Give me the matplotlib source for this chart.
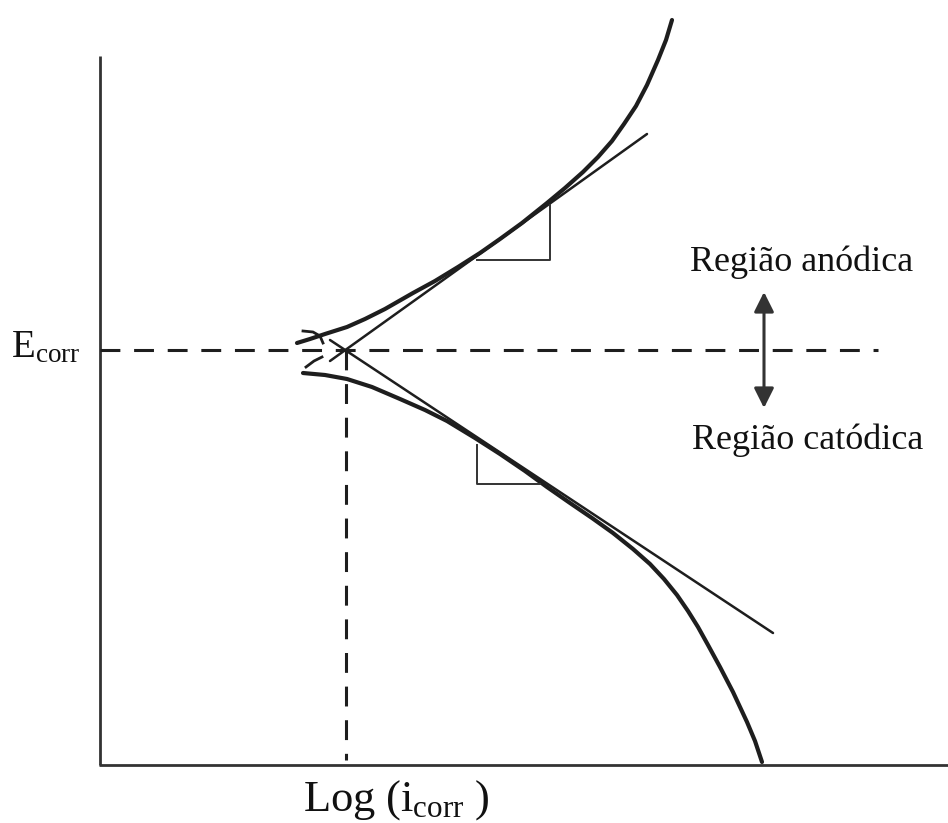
import matplotlib.pyplot as plt

plt.rcParams['font.family'] = ['Liberation Serif', 'DejaVu Serif']
plt.rcParams['mathtext.fontset'] = 'custom'
plt.rcParams['mathtext.rm'] = 'Liberation Serif'
plt.rcParams['mathtext.it'] = 'Liberation Serif:italic'

# curve points (x = log i, y = potential, screen units)
anodic_x = [297, 310, 325, 347, 365, 385, 413, 435, 458, 480, 500, 522, 547,
            565, 583, 598, 612, 624, 636, 647, 658, 666, 672]
anodic_y = [343, 339, 334, 327, 319, 309, 293, 281, 267, 253, 239, 223, 203,
            188, 172, 157, 141, 124, 106, 85, 60, 40, 20]

cathodic_x = [303, 325, 347, 372, 400, 425, 447, 475, 500, 525, 547, 570, 592,
              613, 633, 650, 664, 677, 688, 698, 708, 720, 733, 747, 755, 762]
cathodic_y = [373, 375, 379, 387, 399, 410, 421, 438, 454, 471, 487, 503, 518,
              533, 549, 564, 579, 595, 611, 627, 645, 667, 692, 722, 741, 762]

# Tafel extrapolation lines
tafel_a_x = [330, 647]
tafel_a_y = [361, 134]
tafel_c_x = [330, 773]
tafel_c_y = [340, 633]

# slope triangles
tri_a_x = [477, 550, 550]
tri_a_y = [260, 260, 205]
tri_c_x = [477, 477, 540]
tri_c_y = [445, 484, 484]

# small hooks at the start of the curves
hook_up_x = [303, 313, 320, 323]
hook_up_y = [331, 332, 336, 343]
hook_lo_x = [306, 314, 322]
hook_lo_y = [367, 361, 357]

E_corr = 350
i_corr = 346

fig = plt.figure(figsize=(9.48, 8.23), dpi=100)
ax = fig.add_axes([0, 0, 1, 1])
ax.set_xlim(0, 948)
ax.set_ylim(823, 0)
ax.axis('off')

ink = '#1e1e1e'

# axes
ax.plot([100, 100], [56, 765], color='#333333', lw=2.0, solid_capstyle='butt')
ax.plot([99, 948], [765, 765], color='#333333', lw=2.0, solid_capstyle='butt')

# dashed guides
ax.plot([100, 878], [E_corr, E_corr], color=ink, lw=2.2, dashes=(6.5, 4.5))
ax.plot([i_corr, i_corr], [E_corr, 760], color=ink, lw=2.2, dashes=(6.5, 4.5))

# polarization curves
ax.plot(anodic_x, anodic_y, color=ink, lw=3.0, solid_capstyle='round', solid_joinstyle='round')
ax.plot(cathodic_x, cathodic_y, color=ink, lw=3.0, solid_capstyle='round', solid_joinstyle='round')
ax.plot(hook_up_x, hook_up_y, color=ink, lw=2.0, solid_joinstyle='round')
ax.plot(hook_lo_x, hook_lo_y, color=ink, lw=2.0, solid_joinstyle='round')

# Tafel lines
ax.plot(tafel_a_x, tafel_a_y, color=ink, lw=1.8, solid_capstyle='round')
ax.plot(tafel_c_x, tafel_c_y, color=ink, lw=1.8, solid_capstyle='round')

# triangles
ax.plot(tri_a_x, tri_a_y, color='#333333', lw=1.4)
ax.plot(tri_c_x, tri_c_y, color='#333333', lw=1.4)

# double arrow
ax.annotate('', xy=(764, 292), xytext=(764, 408),
            arrowprops=dict(arrowstyle='<|-|>', color='#333333', lw=2.2,
                            mutation_scale=30, shrinkA=0, shrinkB=0))

ax.text(802, 262, 'Região anódica', fontsize=26, ha='center', va='center', color='#111111')
ax.text(808, 440, 'Região catódica', fontsize=26, ha='center', va='center', color='#111111')
ax.text(81, 348, r'$\mathrm{E}_{\mathrm{corr}}$', fontsize=28, ha='right', va='center', color='#111111')
ax.text(396, 800, r'$\mathrm{Log\ (i}_{\mathrm{corr}}\mathrm{\ )}$', fontsize=32, ha='center', va='center', color='#111111')

fig.savefig('out.png', dpi=100)
